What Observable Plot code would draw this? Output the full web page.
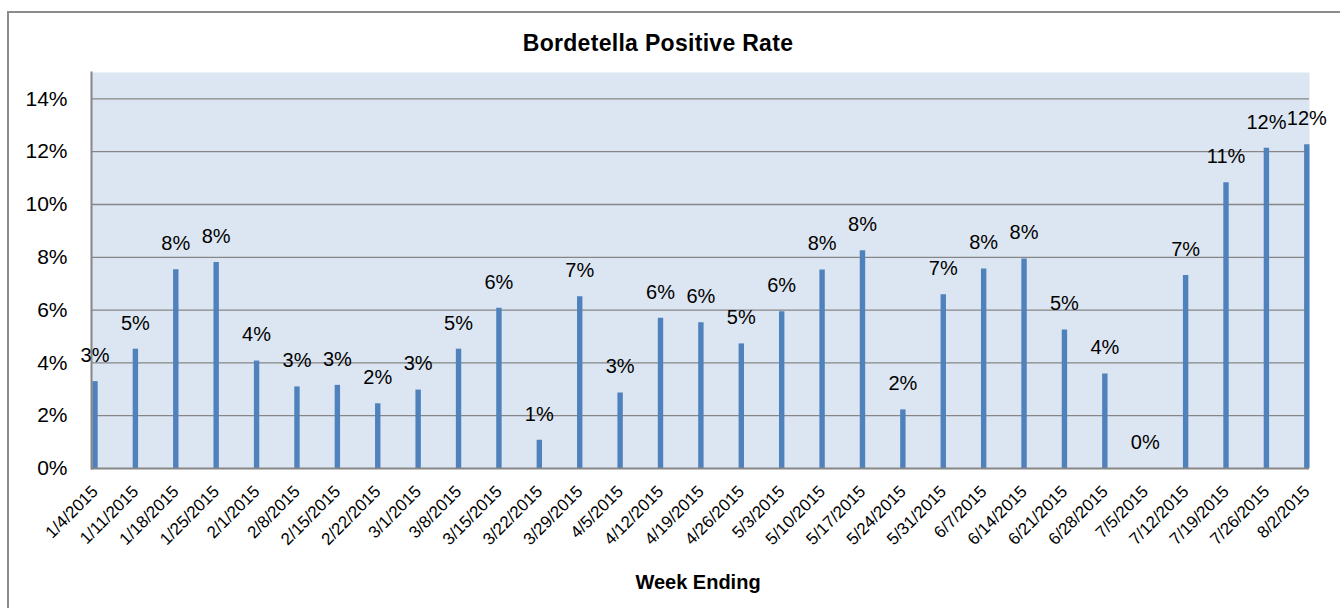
<!DOCTYPE html>
<html>
<head>
<meta charset="utf-8">
<script src="https://cdn.jsdelivr.net/npm/d3@7"></script>
<script src="https://cdn.jsdelivr.net/npm/@observablehq/plot@0.6"></script>
<style>
html, body { margin: 0; padding: 0; background: #ffffff; }
#wrap { position: relative; width: 1340px; height: 608px; overflow: hidden; font-family: "Liberation Sans", Arial, sans-serif; color: #000; }
#border { position: absolute; left: 7px; top: 11px; width: 1400px; height: 700px; border-left: 2px solid #8c8c8c; border-top: 2px solid #8c8c8c; }
#chart { position: absolute; left: 0; top: 0; }
#title { position: absolute; left: 658px; top: 32px; transform: translateX(-50%); white-space: nowrap; font-weight: bold; font-size: 23px; letter-spacing: 0.3px; line-height: 1; }
#xlabel { position: absolute; left: 698px; top: 572px; transform: translateX(-50%); white-space: nowrap; font-weight: bold; font-size: 20px; line-height: 1; }
</style>
</head>
<body>
<div id="wrap">
  <div id="border"></div>
  <div id="chart"></div>
  <div id="title">Bordetella Positive Rate</div>
  <div id="xlabel">Week Ending</div>
</div>
<script>
const weeks = ["1/4/2015","1/11/2015","1/18/2015","1/25/2015","2/1/2015","2/8/2015","2/15/2015","2/22/2015","3/1/2015","3/8/2015","3/15/2015","3/22/2015","3/29/2015","4/5/2015","4/12/2015","4/19/2015","4/26/2015","5/3/2015","5/10/2015","5/17/2015","5/24/2015","5/31/2015","6/7/2015","6/14/2015","6/21/2015","6/28/2015","7/5/2015","7/12/2015","7/19/2015","7/26/2015","8/2/2015"];
const rates = [3.29,4.52,7.53,7.80,4.07,3.09,3.15,2.45,2.97,4.52,6.07,1.07,6.51,2.86,5.69,5.52,4.72,5.94,7.52,8.25,2.22,6.58,7.56,7.94,5.25,3.58,0,7.31,10.82,12.13,12.26];
const yTicks = [0,2,4,6,8,10,12,14];

const data = weeks.map((w, i) => ({week: w, rate: rates[i]}));

const chart = Plot.plot({
  width: 1340,
  height: 608,
  marginLeft: 91,
  marginRight: 31,
  marginTop: 72,
  marginBottom: 140,
  style: {fontFamily: "'Liberation Sans', Arial, sans-serif", background: "transparent", color: "#000", overflow: "visible"},
  x: {type: "point", domain: weeks, padding: 0, round: false, insetLeft: 3.5, insetRight: 2.7, axis: null},
  y: {domain: [0, 15], axis: null},
  marks: [
    Plot.frame({fill: "#dce6f2", stroke: null}),
    Plot.gridY(yTicks.slice(1), {stroke: "#868686", strokeOpacity: 1, strokeWidth: 1.3}),
    Plot.axisY(yTicks, {tickSize: 0, tickPadding: 24, fontSize: 21, tickFormat: d => d + "%", fill: "#000", label: null}),
    Plot.ruleX(data, {x: "week", y1: 0, y2: "rate", stroke: "#4f81bd", strokeWidth: 5.4}),
    Plot.ruleY([0], {stroke: "#868686", strokeWidth: 2}),
    Plot.frame({anchor: "left", stroke: "#868686", strokeWidth: 2}),
    Plot.text(data, {x: "week", y: "rate", text: d => Math.round(d.rate) + "%", dy: -26, fontSize: 20, fill: "#000"}),
    Plot.text(data, {x: "week", frameAnchor: "bottom", text: "week", rotate: -45, textAnchor: "end", dx: 4, dy: 24, fontSize: 17, fill: "#000"})
  ]
});
document.getElementById("chart").appendChild(chart);
</script>
</body>
</html>
